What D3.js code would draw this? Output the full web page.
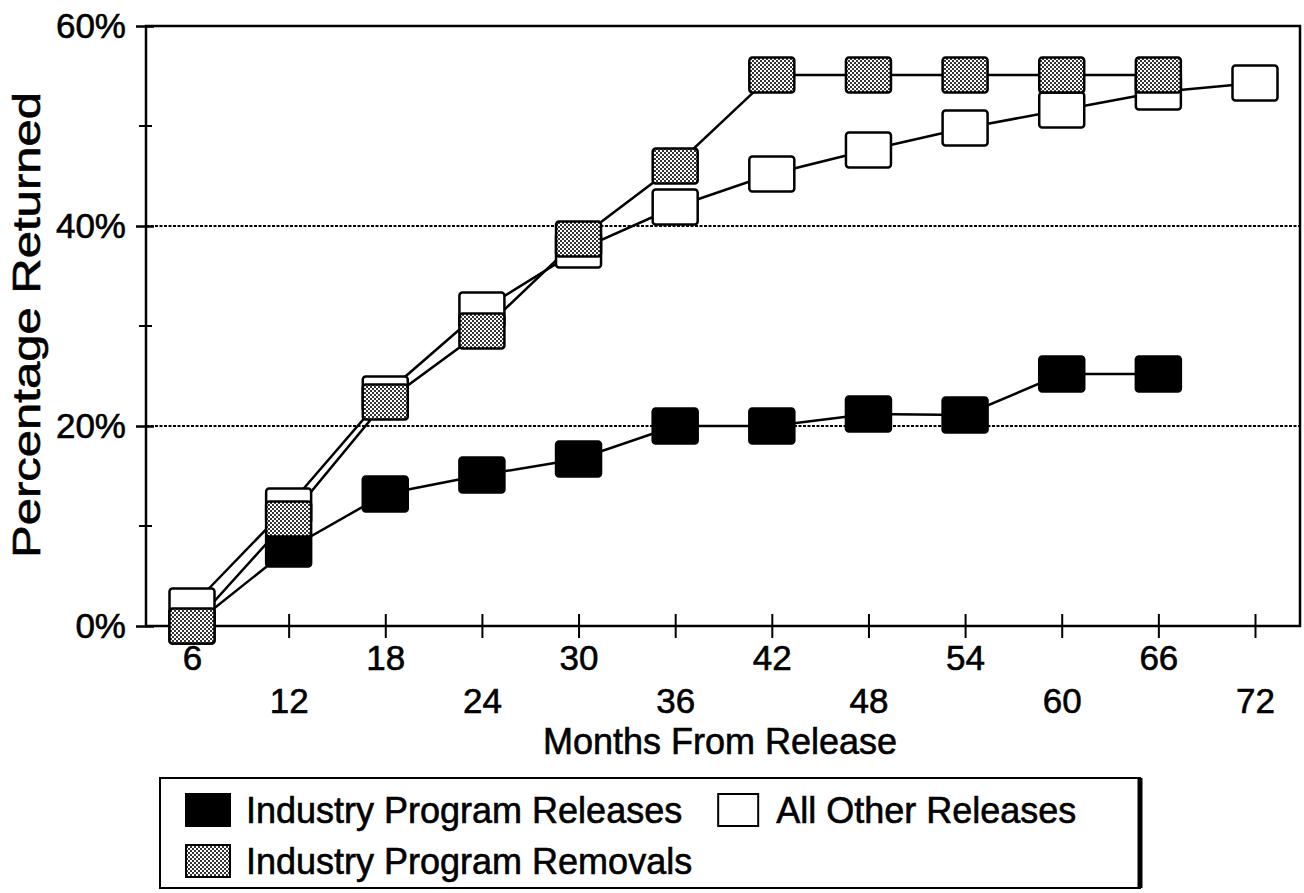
<!DOCTYPE html>
<html>
<head>
<meta charset="utf-8">
<script src="https://cdn.jsdelivr.net/npm/d3@7"></script>
<style>
  body { margin: 0; background: #fff; }
  text { font-family: "Liberation Sans", Arial, sans-serif; fill: #000; stroke: #000; stroke-width: 0.6px; }
</style>
</head>
<body>
<div id="chart"></div>
<script>
// datos
const months = [6, 12, 18, 24, 30, 36, 42, 48, 54, 60, 66, 72];
const industryReleases = [0, 7.7, 13.2, 15.1, 16.7, 20.0, 20.0, 21.2, 21.1, 25.2, 25.2, null];
const industryRemovals = [0, 10.7, 22.4, 29.5, 38.7, 46.0, 55.1, 55.1, 55.1, 55.1, 55.1, null];
const allOther = [2.0, 12.0, 23.2, 31.6, 37.6, 41.9, 45.2, 47.6, 49.8, 51.6, 53.4, 54.3];
const yTicks = [0, 20, 40, 60];
const yMinor = [10, 30, 50];
const gridValues = [20, 40];

const seriesNames = ["Industry Program Releases", "All Other Releases", "Industry Program Removals"];

function generateChart(width = 1304, height = 893) {
  document.getElementById("chart").innerHTML = "";
  const svg = d3
    .select("#chart")
    .append("svg")
    .attr("width", width)
    .attr("height", height);

  // patron punteado para el gris
  const defs = svg.append("defs");
  const pat = defs
    .append("pattern")
    .attr("id", "dots")
    .attr("width", 4)
    .attr("height", 4)
    .attr("patternUnits", "userSpaceOnUse");
  pat.append("rect").attr("width", 4).attr("height", 4).attr("fill", "#fff");
  pat.append("rect").attr("x", 0).attr("y", 0).attr("width", 2).attr("height", 2).attr("fill", "#333");
  pat.append("rect").attr("x", 2).attr("y", 2).attr("width", 2).attr("height", 2).attr("fill", "#333");

  const left = 146, right = 1300, top = 26, bottom = 626;

  let x = d3.scaleLinear().domain([6, 72]).range([192, 1255]);
  let y = d3.scaleLinear().domain([0, 60]).range([bottom, top]);

  // gridlines punteadas
  svg
    .selectAll(".grid")
    .data(gridValues)
    .enter()
    .append("line")
    .attr("x1", left)
    .attr("x2", right)
    .attr("y1", (d) => y(d))
    .attr("y2", (d) => y(d))
    .attr("stroke", "#000")
    .attr("stroke-width", 2.2)
    .attr("stroke-dasharray", "3,1.5");

  // marco
  svg
    .append("rect")
    .attr("x", left)
    .attr("y", top)
    .attr("width", right - left)
    .attr("height", bottom - top)
    .attr("fill", "none")
    .attr("stroke", "#000")
    .attr("stroke-width", 2.5);

  // eje Y
  const yAxis = svg
    .append("g")
    .attr("transform", `translate(${left},0)`)
    .call(d3.axisLeft(y).tickValues(yTicks).tickSize(10).tickFormat((d) => d + "%"));
  yAxis.select(".domain").remove();
  yAxis.selectAll("line").attr("x2", -10).attr("x1", 8).attr("stroke-width", 2.5);
  yAxis
    .selectAll("text")
    .attr("x", -20)
    .style("font-size", "35px")
    .style("font-family", '"Liberation Sans", Arial, sans-serif');

  svg
    .selectAll(".minor")
    .data(yMinor)
    .enter()
    .append("line")
    .attr("x1", left - 7)
    .attr("x2", left + 6)
    .attr("y1", (d) => y(d))
    .attr("y2", (d) => y(d))
    .attr("stroke", "#000")
    .attr("stroke-width", 2);

  // eje X
  const xAxis = svg
    .append("g")
    .attr("transform", `translate(0,${bottom})`)
    .call(d3.axisBottom(x).tickValues(months).tickSize(12).tickFormat((d) => d));
  xAxis.select(".domain").remove();
  xAxis.selectAll("line").attr("y1", -12).attr("stroke-width", 2);
  xAxis
    .selectAll("text")
    .attr("y", (d, i) => (i % 2 === 0 ? 19 : 62))
    .style("font-size", "35px")
    .style("font-family", '"Liberation Sans", Arial, sans-serif');

  // titulos
  svg
    .append("text")
    .attr("x", 720)
    .attr("y", 754)
    .attr("text-anchor", "middle")
    .style("font-size", "36px")
    .text("Months From Release");

  svg
    .append("text")
    .attr("transform", `translate(40,${325}) rotate(-90)`)
    .attr("text-anchor", "middle")
    .attr("textLength", 466)
    .attr("lengthAdjust", "spacingAndGlyphs")
    .style("font-size", "38px")
    .text("Percentage Returned");

  const series = [
    { name: seriesNames[0], values: industryReleases, fill: "#000" },
    { name: seriesNames[1], values: allOther, fill: "#fff" },
    { name: seriesNames[2], values: industryRemovals, fill: "url(#dots)" },
  ];

  const line = d3
    .line()
    .defined((d) => d.v != null)
    .x((d) => x(d.m))
    .y((d) => y(d.v));

  // primero todas las lineas
  series.forEach((s) => {
    const pts = months.map((m, i) => ({ m: m, v: s.values[i] }));
    svg
      .append("path")
      .datum(pts)
      .attr("d", line)
      .attr("fill", "none")
      .attr("stroke", "#000")
      .attr("stroke-width", 2.5);
  });

  // luego los marcadores
  const bw = 45, bh = 35;
  series.forEach((s) => {
    const pts = months.map((m, i) => ({ m: m, v: s.values[i] })).filter((d) => d.v != null);
    svg
      .selectAll(null)
      .data(pts)
      .enter()
      .append("rect")
      .attr("x", (d) => x(d.m) - bw / 2)
      .attr("y", (d) => y(d.v) - bh / 2)
      .attr("width", bw)
      .attr("height", bh)
      .attr("rx", 3)
      .attr("fill", s.fill)
      .attr("stroke", "#000")
      .attr("stroke-width", 2.5);
  });

  // leyenda
  const lg = svg.append("g");
  lg.append("rect")
    .attr("x", 160)
    .attr("y", 778)
    .attr("width", 980)
    .attr("height", 110)
    .attr("fill", "#fff")
    .attr("stroke", "#000")
    .attr("stroke-width", 2);
  lg.append("line")
    .attr("x1", 1140)
    .attr("x2", 1140)
    .attr("y1", 778)
    .attr("y2", 888)
    .attr("stroke", "#000")
    .attr("stroke-width", 5);

  const items = [
    { s: series[0], x: 186, y: 810 },
    { s: series[2], x: 186, y: 861 },
  ];
  items.forEach((it) => {
    lg.append("rect")
      .attr("x", it.x)
      .attr("y", it.y - 16)
      .attr("width", 44)
      .attr("height", 32)
      .attr("fill", it.s.fill)
      .attr("stroke", "#000")
      .attr("stroke-width", 2);
    lg.append("text")
      .attr("x", it.x + 60)
      .attr("y", it.y + 13)
      .style("font-size", "36px")
      .text(it.s.name);
  });
  const t1 = lg.select("text").node().getComputedTextLength();
  const x2 = 186 + 60 + t1 + 36;
  lg.append("rect")
    .attr("x", x2)
    .attr("y", 810 - 16)
    .attr("width", 40)
    .attr("height", 32)
    .attr("fill", "#fff")
    .attr("stroke", "#000")
    .attr("stroke-width", 2);
  lg.append("text")
    .attr("x", x2 + 58)
    .attr("y", 810 + 13)
    .style("font-size", "36px")
    .text(series[1].name);
}

generateChart();
</script>
</body>
</html>
